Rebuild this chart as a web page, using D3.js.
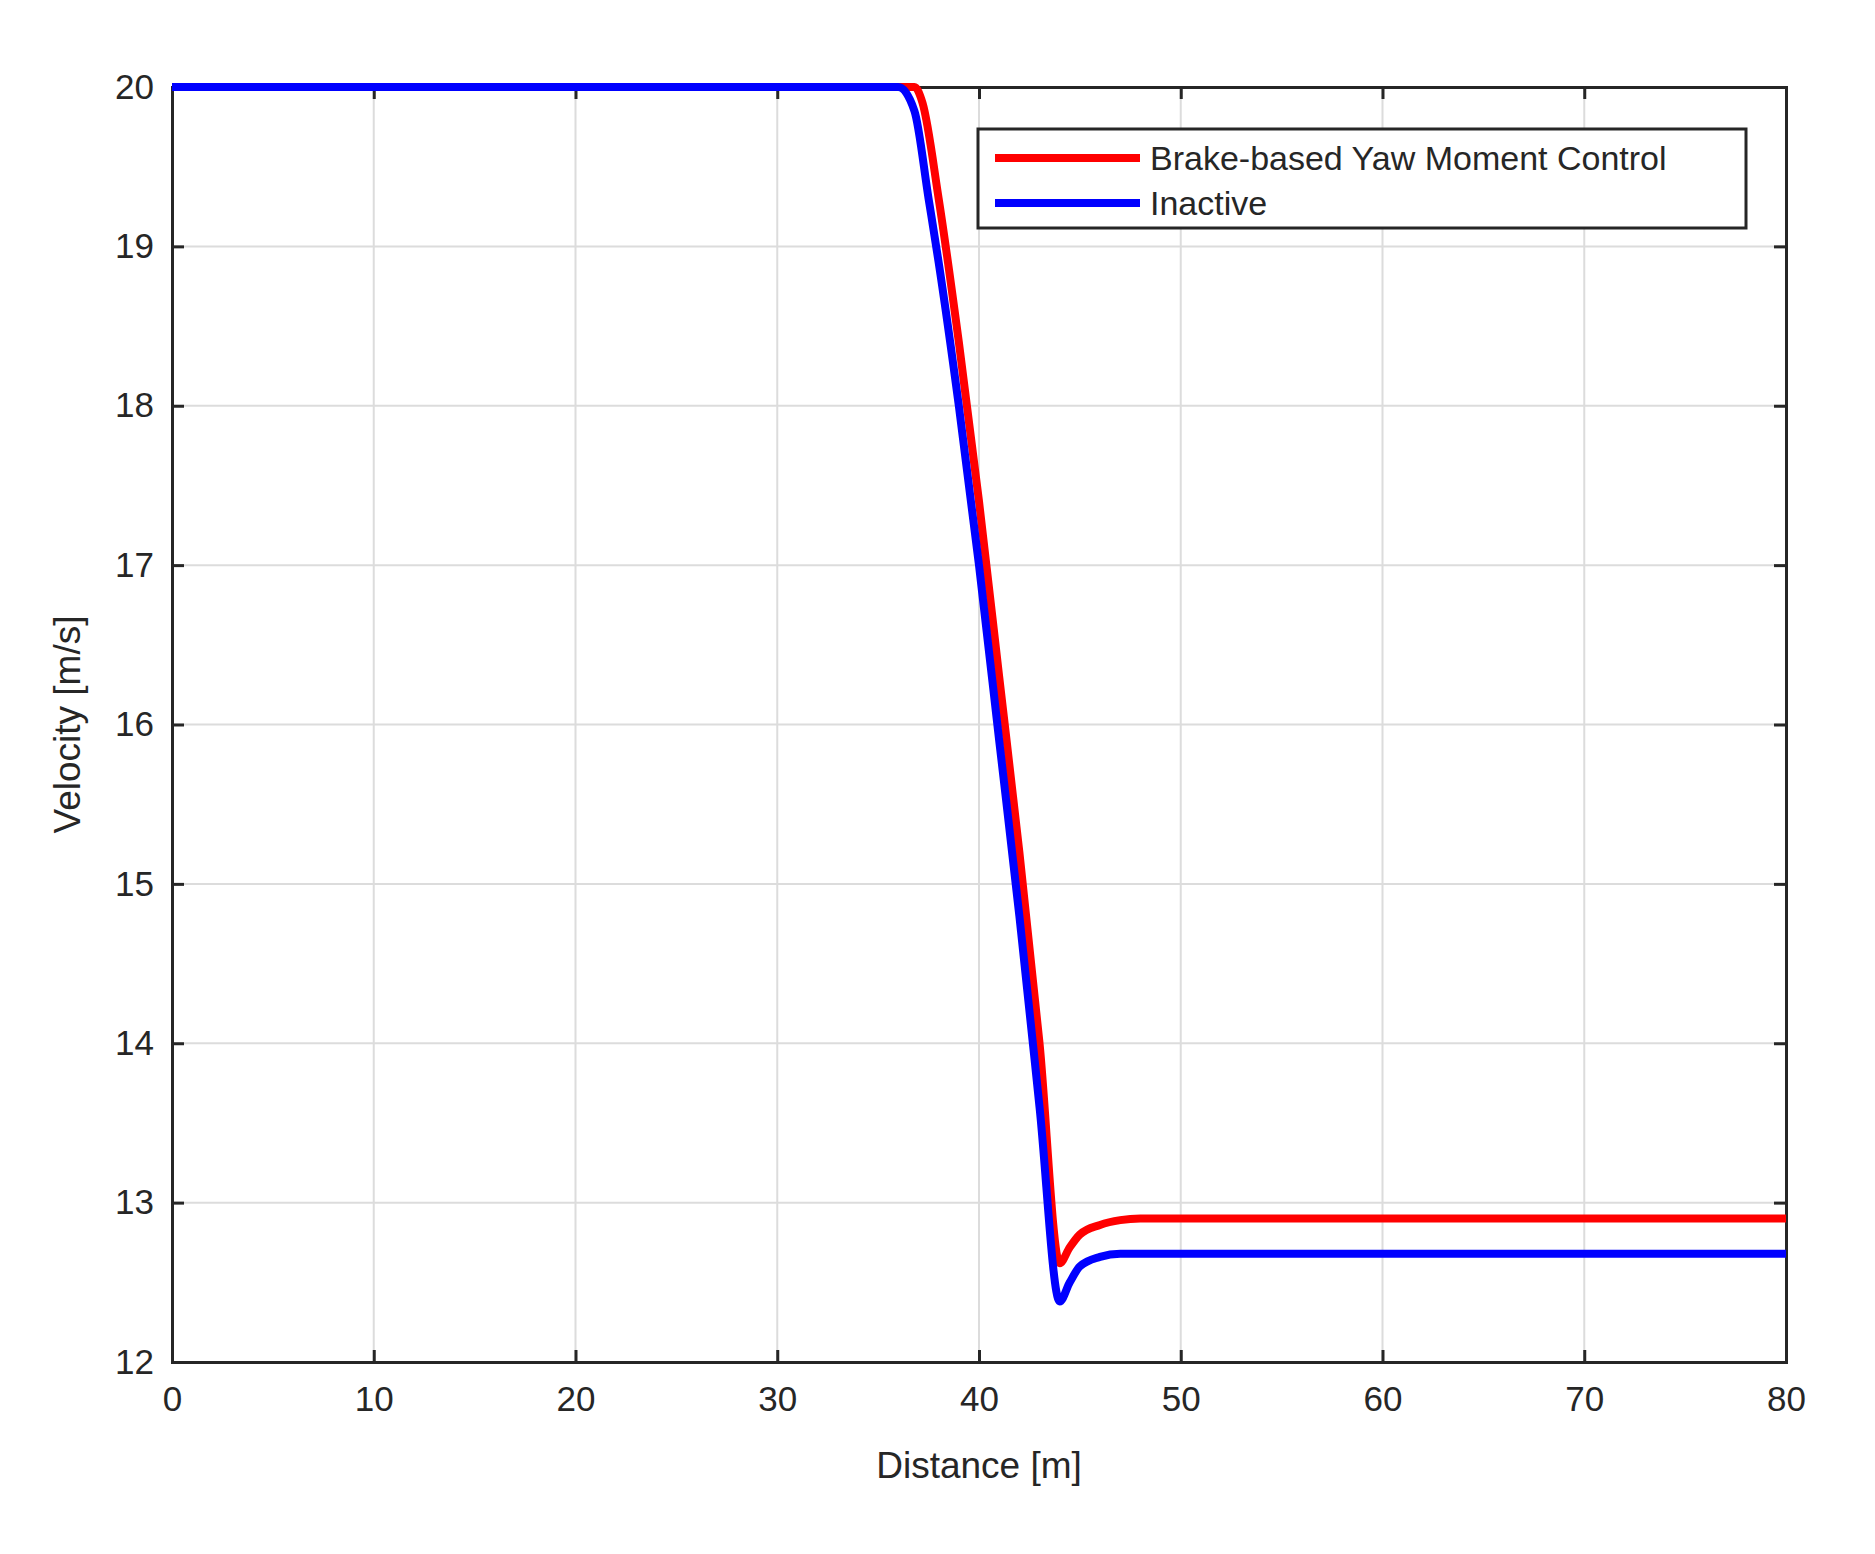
<!DOCTYPE html><html><head><meta charset="utf-8"><script src="https://cdn.jsdelivr.net/npm/d3@7"></script>
<style>body{margin:0;background:#fff}text{font-family:"Liberation Sans",Arial,sans-serif;fill:#262626}</style></head><body><svg id="c" width="1875" height="1554"></svg><script>
const xTicks=[0,10,20,30,40,50,60,70,80];
const yTicks=[12,13,14,15,16,17,18,19,20];
const redX=[0,36.8,37.2,38,39,40,41,42,43,44,44.5,45,46,47,48,50,80];
const redY=[20,20,19.9,19.3,18.4,17.4,16.3,15.2,14.0,12.62,12.72,12.8,12.86,12.89,12.9,12.9,12.9];
const blueX=[0,36,36.8,37.5,38,39,40,41,42,43,44,44.5,45,46,47,48,80];
const blueY=[20,20,19.85,19.3,18.9,18.0,17.0,15.9,14.8,13.6,12.38,12.5,12.6,12.66,12.68,12.68,12.68];
const series=[{name:"Brake-based Yaw Moment Control",color:"#ff0000",x:redX,y:redY},{name:"Inactive",color:"#0000ff",x:blueX,y:blueY}];
const L=172,R=1786,T=87,B=1362;
const svg=d3.select("#c");
const x=d3.scaleLinear().domain([0,80]).range([L,R]);
const y=d3.scaleLinear().domain([12,20]).range([B,T]);
const g=svg.append("g");
g.selectAll(".gx").data(xTicks).enter().append("line").attr("x1",d=>x(d)).attr("x2",d=>x(d)).attr("y1",T).attr("y2",B).attr("stroke","#dcdcdc").attr("stroke-width",2);
g.selectAll(".gy").data(yTicks).enter().append("line").attr("y1",d=>y(d)).attr("y2",d=>y(d)).attr("x1",L).attr("x2",R).attr("stroke","#dcdcdc").attr("stroke-width",2);
const ax=svg.append("g").attr("transform",`translate(0,${B})`).call(d3.axisBottom(x).tickValues(xTicks).tickSize(-12).tickPadding(24));
const ax2=svg.append("g").attr("transform",`translate(0,${T})`).call(d3.axisTop(x).tickValues(xTicks).tickSize(-12).tickFormat(""));
const ay=svg.append("g").attr("transform",`translate(${L},0)`).call(d3.axisLeft(y).tickValues(yTicks).tickSize(-12).tickPadding(18));
const ay2=svg.append("g").attr("transform",`translate(${R},0)`).call(d3.axisRight(y).tickValues(yTicks).tickSize(-12).tickFormat(""));
[ax,ax2,ay,ay2].forEach(a=>{a.selectAll("path").attr("stroke","#262626").attr("stroke-width",3);a.selectAll("line").attr("stroke","#262626").attr("stroke-width",3);a.selectAll("text").style("font-size","35px").attr("fill","#262626");});
const line=d3.line().x(d=>x(d[0])).y(d=>y(d[1])).curve(d3.curveMonotoneX);
series.forEach(s=>{svg.append("path").datum(s.x.map((v,i)=>[v,s.y[i]])).attr("d",line).attr("fill","none").attr("stroke",s.color).attr("stroke-width",8);});
svg.append("text").attr("x",(L+R)/2).attr("y",1478).attr("text-anchor","middle").style("font-size","37px").text("Distance [m]");
svg.append("text").attr("transform",`translate(80,${(T+B)/2}) rotate(-90)`).attr("text-anchor","middle").style("font-size","37px").text("Velocity [m/s]");
const lg=svg.append("g");
lg.append("rect").attr("x",978).attr("y",129).attr("width",768).attr("height",99).attr("fill","#fff").attr("stroke","#262626").attr("stroke-width",3);
series.forEach((s,i)=>{const yy=158+i*45;lg.append("line").attr("x1",995).attr("x2",1140).attr("y1",yy).attr("y2",yy).attr("stroke",s.color).attr("stroke-width",8);
lg.append("text").attr("x",1150).attr("y",yy+12).style("font-size","34px").text(s.name);});
</script></body></html>
